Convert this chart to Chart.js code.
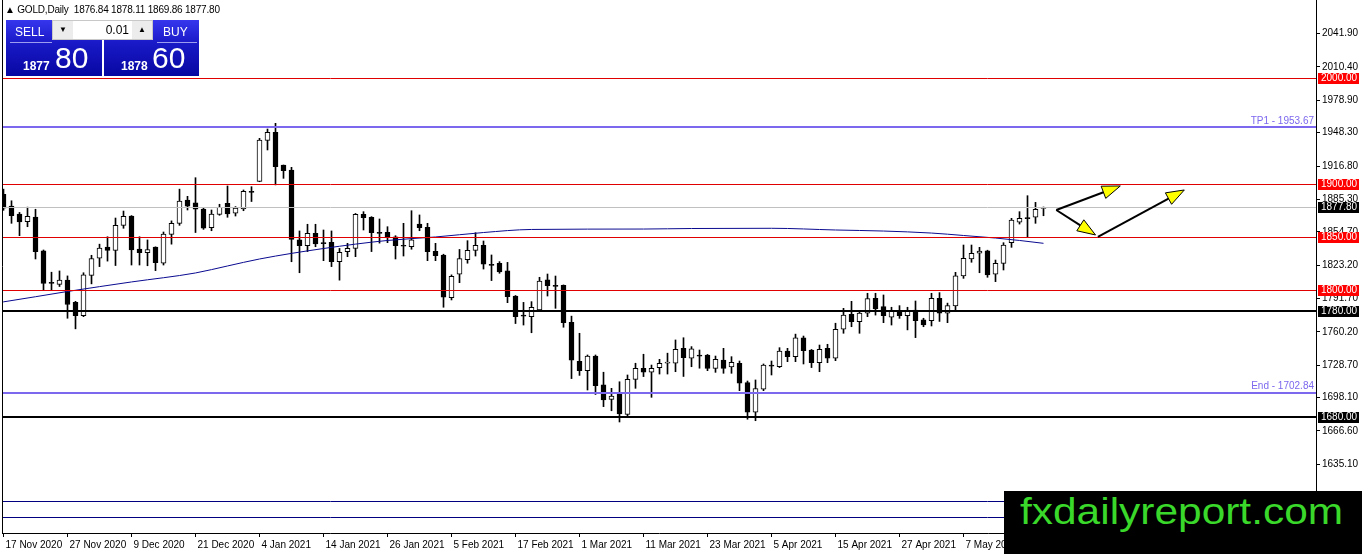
<!DOCTYPE html>
<html>
<head>
<meta charset="utf-8">
<title>GOLD, Daily</title>
<script src="https://cdn.jsdelivr.net/npm/chart.js@4.4.1/dist/chart.umd.min.js"></script>
<style>
  html, body { margin: 0; padding: 0; background: #fff; }
  #wrap { position: relative; width: 1362px; height: 554px; overflow: hidden;
          font-family: "Liberation Sans", Arial, sans-serif; }
  #chart { display: block; }
  #quote { position: absolute; left: 5px; top: 4px; font-size: 10px; line-height: 12px; color: #000;
           white-space: pre; letter-spacing: -0.2px; }
  .side { position: absolute; top: 20px; height: 56px; color: #fff;
          background: linear-gradient(to bottom, #3636ee 0%, #1a1ac8 40%, #0707a2 100%); }
  .side .lbl { position: absolute; top: 6px; font-size: 12px; line-height: 12px; }
  .side .rule { position: absolute; top: 22px; height: 1px; background: #9c9cf0; }
  .side .lead { position: absolute; top: 40px; font-size: 12px; line-height: 12px; font-weight: bold; }
  .side .big { position: absolute; top: 23px; font-size: 30px; line-height: 30px; }
  #spin { position: absolute; left: 52px; top: 20px; width: 101px; height: 20px; background: #fff;
          border: 1px solid #c8c8c8; box-sizing: border-box; font-size: 12px; }
  #spin .btn { position: absolute; top: 0; width: 20px; height: 18px; background: #ececec;
               font-size: 8px; line-height: 18px; text-align: center; color: #000; }
  #spin .lot { position: absolute; left: 22px; width: 54px; top: 2px; text-align: right; }
  #mark { position: absolute; left: 1004px; top: 491px; width: 358px; height: 63px; background: #000; overflow: hidden; }
  #mark span { position: absolute; left: 16px; top: 3px;
               font-size: 36px; line-height: 36px; color: #3ad82a; transform-origin: 0 0; white-space: nowrap; }
</style>
</head>
<body>
<div id="wrap">
  <canvas id="chart" width="1362" height="554"></canvas>
  <div id="quote"></div>
  <div class="side" style="left:6px;width:96px;">
    <div class="lbl" style="left:9px;">SELL</div>
    <div class="rule" style="left:4px;width:42px;"></div>
    <div class="lead" style="left:17px;" id="sellLead"></div>
    <div class="big" style="left:49px;" id="sellBig"></div>
  </div>
  <div class="side" style="left:104px;width:95px;">
    <div class="lbl" style="left:59px;">BUY</div>
    <div class="rule" style="left:53px;width:40px;"></div>
    <div class="lead" style="left:17px;" id="buyLead"></div>
    <div class="big" style="left:48px;" id="buyBig"></div>
  </div>
  <div id="spin">
    <div class="btn" style="left:0;">&#9660;</div>
    <div class="lot" id="lot"></div>
    <div class="btn" style="left:79px;">&#9650;</div>
  </div>
  <div id="mark"><span id="markText">fxdailyreport.com</span></div>
</div>
<script>
// GOLD daily candles, 17 Nov 2020 .. 21 May 2021 (one entry per bar)
const opens = [
  1890, 1879, 1871.5, 1864.2, 1868.7, 1836.6, 1807, 1805, 1809, 1788,
  1775.4, 1813.5, 1829.7, 1840.3, 1837.2, 1860.8, 1869.6, 1838.4, 1835, 1840.3,
  1825, 1852.3, 1862.7, 1884.7, 1882, 1876.2, 1858.6, 1871, 1881.6, 1872.2,
  1876.2, 1893, 1902.4, 1941.1, 1948.7, 1917.8, 1913, 1847, 1841.6, 1853.3,
  1844.5, 1844.8, 1826.4, 1836, 1839, 1871.2, 1868.4, 1854.2, 1854.2, 1850,
  1842, 1840.7, 1862, 1859, 1836.3, 1832.8, 1792.5, 1814.6, 1828.4, 1837.2,
  1842, 1824, 1825, 1817.7, 1794, 1776, 1774.5, 1780.8, 1809.2, 1804,
  1804, 1769.2, 1732.3, 1723.5, 1737.3, 1710, 1696.4, 1702, 1682.2, 1715.3,
  1725.7, 1722, 1726.4, 1730.5, 1730.5, 1744.6, 1735.2, 1738.3, 1738.3, 1725.7,
  1733.5, 1727, 1730.5, 1712.2, 1684.2, 1706, 1728.8, 1727.2, 1742, 1736.7,
  1754.6, 1743, 1731, 1744.6, 1735.2, 1762.6, 1776.7, 1769.8, 1777.8, 1791.8,
  1784, 1774, 1780, 1775.4, 1780.8, 1771.4, 1770.8, 1791.8, 1777.8, 1784.6,
  1812.9, 1829, 1834.4, 1836.8, 1814.6, 1824.9, 1844.4, 1863.7, 1868.1, 1868.4,
  1876.84
];
const highs = [
  1895, 1884, 1873, 1878, 1876, 1837.5, 1816.5, 1817.7, 1813, 1789,
  1816, 1832.5, 1843, 1850, 1867.7, 1874.3, 1870, 1850, 1847, 1840.5,
  1854.5, 1865, 1895, 1888.2, 1905.8, 1877, 1875.3, 1880.7, 1898, 1878.5,
  1894.2, 1897.3, 1943, 1951.8, 1957.2, 1917.8, 1915.6, 1855.5, 1861.8, 1861.8,
  1856.4, 1855.5, 1839, 1843.8, 1872, 1873.7, 1869, 1866.8, 1859.5, 1851,
  1862.7, 1874.6, 1870.6, 1862.7, 1843.8, 1833.5, 1814, 1838, 1846.3, 1853.8,
  1846, 1832.8, 1826.5, 1825.8, 1794.5, 1788, 1788.7, 1811.7, 1814.8, 1812.9,
  1804.5, 1775, 1758.8, 1738.3, 1738.3, 1722, 1706.8, 1713, 1719.4, 1730.5,
  1739, 1728.8, 1734.2, 1740, 1752.5, 1754.6, 1746.2, 1743, 1738.8, 1737.3,
  1744.6, 1736.7, 1732.6, 1713.7, 1714.7, 1729.8, 1732.6, 1745.2, 1744.6, 1758,
  1756.2, 1743.5, 1747.7, 1748.4, 1768.3, 1782.4, 1789, 1780, 1796.6, 1796.6,
  1795, 1783.4, 1784.9, 1783.4, 1789.3, 1773, 1796.6, 1797.2, 1787.3, 1816.4,
  1842.2, 1842.2, 1840, 1837.3, 1828, 1844.4, 1867.4, 1873.7, 1888.8, 1882.5,
  1878.11
];
const lows = [
  1875, 1862.7, 1851, 1859.5, 1829, 1800, 1800, 1803, 1773, 1763,
  1774.5, 1805.5, 1821.8, 1827, 1822.8, 1858, 1823.3, 1823.3, 1822.6, 1818,
  1823.3, 1843, 1860.8, 1875.3, 1854, 1857, 1855.7, 1870.3, 1868.4, 1869.6,
  1874.6, 1883.3, 1902, 1932, 1899, 1905.2, 1826.4, 1816, 1836, 1840.6,
  1827.4, 1821.8, 1809, 1831.2, 1831.2, 1856.4, 1836, 1844, 1844.4, 1829,
  1831.8, 1838.2, 1855.7, 1827.4, 1827.4, 1783.4, 1790.3, 1806.6, 1825, 1831.8,
  1819.5, 1808.6, 1815.5, 1787.7, 1768, 1766.6, 1759.3, 1780.5, 1794, 1782.4,
  1764.5, 1716, 1719, 1705.2, 1701, 1689.5, 1685.6, 1675, 1680.7, 1706.8,
  1717.9, 1698.3, 1720.3, 1720.3, 1722.5, 1718, 1727.2, 1725.8, 1723.5, 1721.9,
  1721, 1721, 1704.6, 1677.6, 1676.2, 1704.6, 1719.4, 1726.4, 1732, 1732,
  1729.8, 1726.4, 1722.5, 1731, 1732.9, 1758.8, 1765, 1758.8, 1774.5, 1776,
  1768.8, 1766.6, 1772.9, 1762, 1754.7, 1765, 1765.7, 1770, 1768.8, 1780.8,
  1810.7, 1825.9, 1816, 1811.7, 1807.6, 1818.6, 1840, 1862, 1850, 1862.7,
  1869.86
];
const closes = [
  1877, 1870, 1864, 1869.3, 1836, 1806, 1805.8, 1809, 1786, 1775.4,
  1814, 1829.5, 1839.4, 1837.2, 1860.8, 1869.3, 1837.5, 1835, 1838, 1825.5,
  1852.6, 1862.7, 1883.8, 1879, 1876, 1858, 1871.5, 1877.8, 1871.5, 1877,
  1893, 1892, 1941.4, 1948.7, 1916.2, 1912.4, 1847.6, 1841.6, 1853.3, 1843.2,
  1843.5, 1826.4, 1835.3, 1839, 1871.2, 1868, 1853.8, 1853.2, 1850, 1841.6,
  1841, 1847, 1858.6, 1836, 1832.2, 1793, 1812.7, 1829.3, 1837.2, 1842,
  1824, 1823, 1816.7, 1793.4, 1774.5, 1775, 1783.4, 1808.2, 1803.8, 1803,
  1768.8, 1733.5, 1723.5, 1737.3, 1709.3, 1695.8, 1699.5, 1682.5, 1715.3, 1725.7,
  1722, 1725.7, 1730.5, 1731.5, 1743.6, 1735.7, 1744, 1737.1, 1725.5, 1734.2,
  1725.7, 1731.4, 1711.6, 1684.2, 1706.6, 1728.8, 1727.8, 1742, 1736.7, 1754.6,
  1742.4, 1731, 1743.6, 1735.2, 1762.6, 1776.1, 1769.8, 1777.8, 1791.5, 1781.8,
  1775.4, 1780, 1775.4, 1780, 1770.7, 1766.6, 1791.8, 1777.8, 1784.9, 1813,
  1829.7, 1834.4, 1836.5, 1813.9, 1824.9, 1842.2, 1865.8, 1867.4, 1867, 1875.9,
  1877.80
];

// moving average (bar index -> value)
const maBars = [-1, 0, 8, 16, 24, 28, 32, 40, 48, 54, 60, 66, 80, 86, 96, 104, 110, 116, 120, 124, 127, 130];
const maValues = [1787.5, 1788.5, 1798.3, 1807.3, 1815.8, 1822.4, 1829.0, 1838.9, 1846.5, 1849.8, 1854.0,
                  1856.9, 1857.3, 1857.8, 1858.0, 1856.4, 1855.4, 1853.5, 1851.2, 1848.8, 1846.5, 1843.8];

// axis labels
const dateTickLabels = ["17 Nov 2020", "27 Nov 2020", "9 Dec 2020", "21 Dec 2020", "4 Jan 2021", "14 Jan 2021",
  "26 Jan 2021", "5 Feb 2021", "17 Feb 2021", "1 Mar 2021", "11 Mar 2021", "23 Mar 2021", "5 Apr 2021",
  "15 Apr 2021", "27 Apr 2021", "7 May 2021"];
const priceTicks = [2041.90, 2010.40, 1978.90, 1948.30, 1916.80, 1885.30, 1854.70, 1823.20, 1791.70,
  1760.20, 1728.70, 1698.10, 1666.60, 1635.10, 1603.60];

// drawn levels
const redLevels = [2000, 1900, 1850, 1800];
const blackLevels = [1780, 1680];
const targetLevels = [1953.67, 1702.84];
const targetNames = ["TP1", "End"];
const navyLevels = [1600.4, 1584.9];
const askPrice = 1878.60;
const lotSize = 0.01;

// arrows drawn on the chart: [bar, price] pairs
const arrows = [
  [[131.6, 1875.3], [139.6, 1898.0]],
  [[131.6, 1875.3], [136.5, 1851.7]],
  [[136.8, 1849.8], [147.6, 1894.2]]
];

const last = closes.length - 1;
const bidPrice = closes[last];
const FONT = '"Liberation Sans", Arial, sans-serif';
const labelEvery = 8;

// Header texts
document.getElementById("quote").textContent =
  "\u25B2 GOLD,Daily  " + [opens[last], highs[last], lows[last], closes[last]].map(v => v.toFixed(2)).join(" ");
const splitPrice = p => p.toFixed(2).split(".");
const [bidLead, bidBig] = splitPrice(bidPrice);
const [askLead, askBig] = splitPrice(askPrice);
document.getElementById("sellLead").textContent = bidLead;
document.getElementById("sellBig").textContent = bidBig;
document.getElementById("buyLead").textContent = askLead;
document.getElementById("buyBig").textContent = askBig;
document.getElementById("lot").textContent = lotSize.toFixed(2);

// stretch the watermark to its box
const markText = document.getElementById("markText");
markText.style.transform = "scaleX(" + (323 / markText.offsetWidth) + ")";

// no extra padding around the plot, the frame sits on the canvas edges
const noPad = s => { s.paddingTop = 0; s.paddingBottom = 0; s.paddingLeft = 0; s.paddingRight = 0; };

// Levels, labels, arrows and price tags
const overlayPlugin = {
  id: "overlay",
  afterDatasetsDraw(chart) {
    const { ctx, chartArea: a, scales: { x, y } } = chart;
    ctx.save();
    ctx.beginPath();
    ctx.rect(a.left, a.top, a.right - a.left, a.bottom - a.top);
    ctx.clip();

    const hline = (price, color, width) => {
      const py = Math.round(y.getPixelForValue(price)) + (width % 2 ? 0.5 : 0);
      ctx.strokeStyle = color;
      ctx.lineWidth = width;
      ctx.beginPath();
      ctx.moveTo(a.left, py);
      ctx.lineTo(a.right, py);
      ctx.stroke();
    };
    hline(bidPrice, "#c0c0c0", 1);
    navyLevels.forEach(p => hline(p, "#000080", 1));
    redLevels.forEach(p => hline(p, "#e00000", 1));
    blackLevels.forEach(p => hline(p, "#000000", 2));
    targetLevels.forEach(p => hline(p, "#7b68ee", 2));

    ctx.font = "10px " + FONT;
    ctx.fillStyle = "#7b68ee";
    ctx.textAlign = "right";
    ctx.textBaseline = "bottom";
    targetLevels.forEach((p, k) => {
      ctx.fillText(targetNames[k] + " - " + p.toFixed(2), a.right - 2, y.getPixelForValue(p) - 1);
    });

    // arrows
    arrows.forEach(([from, to]) => {
      const x0 = x.getPixelForValue(from[0]), y0 = y.getPixelForValue(from[1]);
      const x1 = x.getPixelForValue(to[0]), y1 = y.getPixelForValue(to[1]);
      const ang = Math.atan2(y1 - y0, x1 - x0);
      const len = 18, half = 6.5;
      const bx = x1 - len * Math.cos(ang), by = y1 - len * Math.sin(ang);
      ctx.strokeStyle = "#000";
      ctx.lineWidth = 2;
      ctx.beginPath();
      ctx.moveTo(x0, y0);
      ctx.lineTo(bx, by);
      ctx.stroke();
      ctx.beginPath();
      ctx.moveTo(x1, y1);
      ctx.lineTo(bx + half * Math.sin(ang), by - half * Math.cos(ang));
      ctx.lineTo(bx - half * Math.sin(ang), by + half * Math.cos(ang));
      ctx.closePath();
      ctx.fillStyle = "#ffff00";
      ctx.fill();
      ctx.lineWidth = 1;
      ctx.stroke();
    });
    ctx.restore();
  },
  afterDraw(chart) {
    const { ctx, chartArea: a, scales: { y } } = chart;
    ctx.save();
    // left frame
    ctx.strokeStyle = "#000";
    ctx.lineWidth = 1;
    ctx.beginPath();
    ctx.moveTo(2.5, 0);
    ctx.lineTo(2.5, a.bottom);
    ctx.stroke();

    const tag = (price, bg) => {
      const py = Math.round(y.getPixelForValue(price));
      ctx.fillStyle = bg;
      ctx.fillRect(a.right + 2, py - 5, 41, 11);
      ctx.fillStyle = "#fff";
      ctx.font = "10px " + FONT;
      ctx.textAlign = "left";
      ctx.textBaseline = "middle";
      ctx.fillText(price.toFixed(2), a.right + 5, py + 0.5);
    };
    redLevels.forEach(p => tag(p, "#ff0000"));
    blackLevels.forEach(p => tag(p, "#000000"));
    tag(bidPrice, "#000000");
    ctx.restore();
  }
};

const ctx = document.getElementById("chart").getContext("2d");
new Chart(ctx, {
  type: "bar",
  data: {
    datasets: [
      {
        type: "line",
        label: "MA",
        data: maBars.map((b, k) => ({ x: b, y: maValues[k] })),
        borderColor: "#0a0a90",
        borderWidth: 1,
        pointRadius: 0,
        cubicInterpolationMode: "monotone",
        order: 0
      },
      {
        label: "Bodies",
        data: opens.map((o, i) => ({ x: i, y: [o, closes[i]] })),
        backgroundColor: opens.map((o, i) => closes[i] >= o ? "#ffffff" : "#000000"),
        borderColor: "#000000",
        borderWidth: 1,
        borderSkipped: false,
        barThickness: 5,
        grouped: false,
        order: 1
      },
      {
        label: "Wicks",
        data: opens.map((o, i) => ({ x: i, y: [lows[i], highs[i]] })),
        backgroundColor: "#000000",
        barThickness: 1,
        grouped: false,
        order: 2
      }
    ]
  },
  options: {
    responsive: false,
    devicePixelRatio: 1,
    animation: false,
    layout: { padding: { left: 2, top: 0, right: 0, bottom: 0 } },
    plugins: { legend: { display: false }, tooltip: { enabled: false } },
    scales: {
      x: {
        type: "linear",
        offset: false,
        min: -0.1875,
        max: 164.0625,
        afterBuildTicks: s => { s.ticks = dateTickLabels.map((_, k) => ({ value: k * labelEvery })); },
        afterFit: s => { s.height = 21; noPad(s); },
        ticks: {
          callback: v => dateTickLabels[v / labelEvery],
          align: "start",
          labelOffset: 2,
          padding: 2,
          maxRotation: 0,
          autoSkip: false,
          color: "#000",
          font: { family: FONT, size: 10 }
        },
        grid: { offset: false, drawOnChartArea: false, drawTicks: true, tickLength: 4, color: "#000" },
        border: { display: true, color: "#000" }
      },
      y: {
        type: "linear",
        position: "right",
        min: 1570.1,
        max: 2073.7,
        afterBuildTicks: s => { s.ticks = priceTicks.map(v => ({ value: v })); },
        afterFit: s => { s.width = 46; noPad(s); },
        ticks: {
          callback: v => v.toFixed(2),
          padding: 2,
          color: "#000",
          font: { family: FONT, size: 10 }
        },
        grid: { drawOnChartArea: false, drawTicks: true, tickLength: 4, color: "#000" },
        border: { display: true, color: "#000" }
      }
    }
  },
  plugins: [overlayPlugin]
});
</script>
</body>
</html>
